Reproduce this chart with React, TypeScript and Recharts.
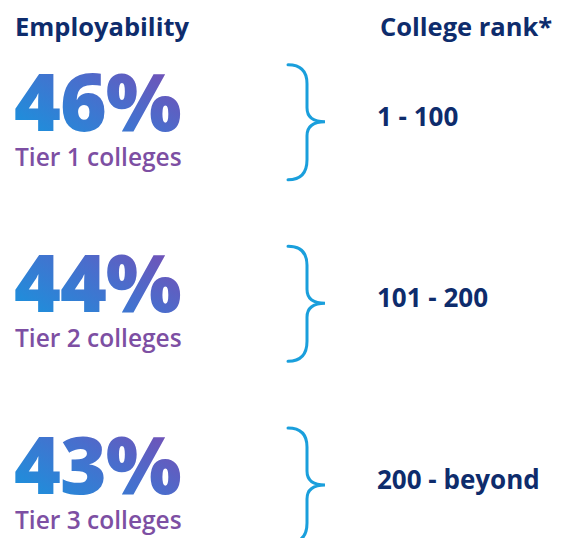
import React from 'react';
import { BarChart, Bar, XAxis, YAxis } from 'recharts';

const tiers = ['Tier 1 colleges', 'Tier 2 colleges', 'Tier 3 colleges'];
const employability = [46, 44, 43];
const rankRanges = ['1 - 100', '101 - 200', '200 - beyond'];

const NAVY = '#0e2c6c';
const PURPLE = '#7d4fa3';
const BRACE = '#1a9fdc';
const FONT = '"Open Sans", "Noto Sans", sans-serif';

const data = tiers.map((tier, i) => ({
    tier,
    employability: employability[i],
    rank: rankRanges[i],
}));

// each bar band becomes one row of the infographic
const RowShape = (props: any) => {
    const { y, height, payload, index } = props;
    const c = y + height / 2;
    const gid = `pct-grad-${index}`;
    const brace = `M288,${c - 57} Q307,${c - 57} 307,${c - 38} L307,${c - 14} Q307,${c} 325,${c} Q307,${c} 307,${c + 14} L307,${c + 38} Q307,${c + 58} 288,${c + 58}`;
    return (
        <g>
            <defs>
                <linearGradient id={gid} x1="0" y1="1" x2="1" y2="0">
                    <stop offset="0%" stopColor="#0e9be1" />
                    <stop offset="55%" stopColor="#4a6dcc" />
                    <stop offset="100%" stopColor="#8842ab" />
                </linearGradient>
            </defs>
            <text x={14} y={c + 9} fill={`url(#${gid})`} fontFamily={FONT} fontWeight={800} fontSize={80} letterSpacing={-1}>
                {`${payload.employability}%`}
            </text>
            <text x={15} y={c + 44} fill={PURPLE} fontFamily={FONT} fontWeight={600} fontSize={24.5}>
                {payload.tier}
            </text>
            <path d={brace} fill="none" stroke={BRACE} strokeWidth={3} strokeLinecap="round" />
            <text x={377} y={c + 4} fill={NAVY} fontFamily={FONT} fontWeight={700} fontSize={26}>
                {payload.rank}
            </text>
        </g>
    );
};

export default function App() {
    return (
        <div style={{ position: 'relative', width: 565, height: 538, overflow: 'hidden', background: '#fff' }}>
            <style>{'body{margin:0}'}</style>
            <div style={{ position: 'absolute', left: 15, top: 8, lineHeight: '36px', fontFamily: FONT, fontWeight: 700, fontSize: 25.5, color: NAVY }}>
                Employability
            </div>
            <div style={{ position: 'absolute', left: 380, top: 8, lineHeight: '36px', fontFamily: FONT, fontWeight: 700, fontSize: 25.5, color: NAVY }}>
                College rank*
            </div>
            <div style={{ position: 'absolute', left: 0, top: 0 }}>
                <BarChart width={565} height={576} data={data} layout="vertical" margin={{ top: 31, right: 0, bottom: 0, left: 0 }}>
                    <XAxis type="number" hide domain={[0, 100]} />
                    <YAxis type="category" dataKey="tier" hide />
                    <Bar dataKey="employability" isAnimationActive={false} shape={<RowShape />} />
                </BarChart>
            </div>
        </div>
    );
}
